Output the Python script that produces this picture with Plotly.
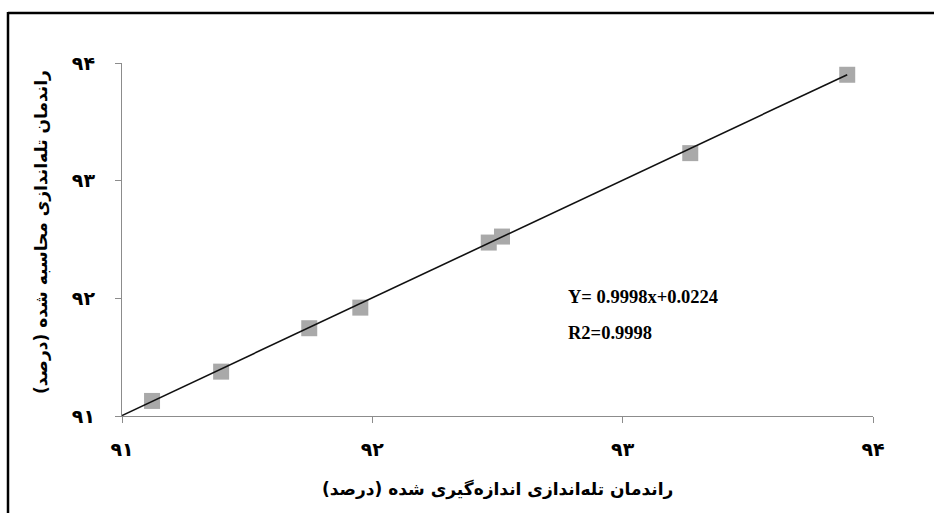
import plotly.graph_objects as go

# Measured vs. calculated trap efficiency (percent)
measured = [91.120, 91.396, 91.748, 91.952, 92.465, 92.518, 93.270, 93.897]
calculated = [91.128, 91.377, 91.746, 91.921, 92.474, 92.525, 93.234, 93.900]

# Linear fit reported on the chart
slope = 0.9998
intercept = 0.0224
r2 = 0.9998
fit_x = [91.0, 93.897]
fit_y = [slope * v + intercept for v in fit_x]

tick_vals = [91, 92, 93, 94]
tick_text = ["۹۱", "۹۲", "۹۳", "۹۴"]

x_title = "راندمان تله‌اندازی اندازه‌گیری شده (درصد)"
y_title = "راندمان تله‌اندازی محاسبه شده (درصد)"

W, H = 934, 513
ML, MR, MT, MB = 122, 61, 63, 97
PW, PH = W - ML - MR, H - MT - MB


def px_x(p):
    return (p - ML) / PW


def px_y(p):
    return (H - MB - p) / PH


fig = go.Figure()
fig.add_trace(go.Scatter(
    x=measured, y=calculated, mode="markers",
    marker=dict(symbol="square", size=16, color="#a9a9a9", line=dict(width=0)),
    showlegend=False, cliponaxis=False,
))
fig.add_trace(go.Scatter(
    x=fit_x, y=fit_y, mode="lines",
    line=dict(color="#111111", width=1.6),
    showlegend=False, cliponaxis=False,
))

axis_common = dict(
    range=[91, 94], tickvals=tick_vals, ticktext=tick_text,
    showgrid=False, zeroline=False, showline=True,
    linecolor="#8c8c8c", linewidth=1.3,
    ticks="outside", ticklen=6, tickcolor="#8c8c8c", tickwidth=1.3,
    tickfont=dict(family="DejaVu Sans", size=19, color="#000000", weight="bold"),
)

fig.update_xaxes(**axis_common, ticklabelstandoff=10)
fig.update_yaxes(**axis_common, ticklabelstandoff=16)

fig.update_layout(
    width=W, height=H,
    margin=dict(l=ML, r=MR, t=MT, b=MB),
    paper_bgcolor="white", plot_bgcolor="white",
    annotations=[
        dict(text=x_title, xref="paper", yref="paper", x=px_x(497), y=px_y(489),
             showarrow=False, xanchor="center", yanchor="middle",
             font=dict(family="DejaVu Sans", size=17, color="#000000", weight="bold")),
        dict(text=y_title, xref="paper", yref="paper", x=px_x(41), y=px_y(232),
             showarrow=False, xanchor="center", yanchor="middle", textangle=-90,
             font=dict(family="DejaVu Sans", size=17, color="#000000", weight="bold")),
        dict(text=f"Y= {slope}x+{intercept}", xref="paper", yref="paper",
             x=px_x(566), y=px_y(297), showarrow=False, xanchor="left", yanchor="middle",
             font=dict(family="Liberation Serif", size=18.5, color="#000000", weight="bold")),
        dict(text=f"R2={r2}", xref="paper", yref="paper",
             x=px_x(566), y=px_y(333), showarrow=False, xanchor="left", yanchor="middle",
             font=dict(family="Liberation Serif", size=18.5, color="#000000", weight="bold")),
    ],
    shapes=[
        dict(type="line", xref="paper", yref="paper",
             x0=px_x(8), x1=px_x(8), y0=px_y(H + 5), y1=px_y(12),
             line=dict(color="#000000", width=2.5)),
        dict(type="line", xref="paper", yref="paper",
             x0=px_x(8), x1=px_x(W + 5), y0=px_y(13), y1=px_y(13),
             line=dict(color="#000000", width=2.5)),
    ],
)

fig.write_html("out.html")
